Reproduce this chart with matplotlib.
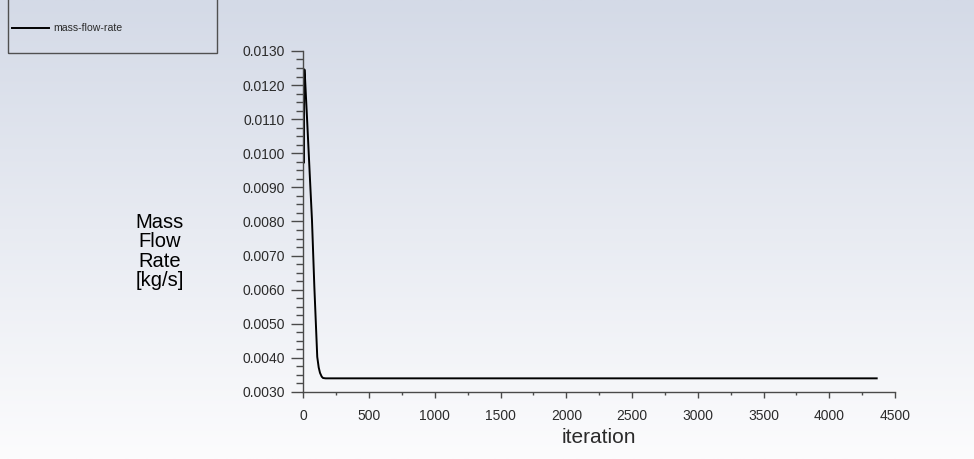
import numpy as np
import matplotlib.pyplot as plt
from matplotlib.lines import Line2D
from matplotlib.patches import Rectangle

# data
iteration = [1, 4, 7, 10, 30, 50, 66, 84, 106, 117, 127, 140, 150, 170, 200,
             500, 1000, 1500, 2000, 2500, 3000, 3500, 4000, 4360]
mass_flow = [0.01238, 0.00972, 0.01246, 0.01244, 0.01090, 0.00930, 0.00804,
             0.00608, 0.00403, 0.00372, 0.00356, 0.00345, 0.00341, 0.00340,
             0.00340, 0.00340, 0.00340, 0.00340, 0.00340, 0.00340, 0.00340,
             0.00340, 0.00340, 0.00340]

x_ticks = [0, 500, 1000, 1500, 2000, 2500, 3000, 3500, 4000, 4500]
y_ticks = [0.0030, 0.0040, 0.0050, 0.0060, 0.0070, 0.0080, 0.0090,
           0.0100, 0.0110, 0.0120, 0.0130]

plt.rcParams["font.family"] = ["Liberation Sans", "DejaVu Sans"]
TXT = "#2b2b2b"
AX = "#4a4a4a"

fig = plt.figure(figsize=(9.74, 4.59), dpi=100)

# background gradient (bluish grey at top to white at bottom)
bg = fig.add_axes([0, 0, 1, 1], zorder=-10)
grad = np.linspace(0, 1, 256).reshape(-1, 1)
top = np.array([212, 218, 231]) / 255
bot = np.array([252, 252, 253]) / 255
img = top * (1 - grad[..., None]) + bot * grad[..., None]
img = np.repeat(img, 2, axis=1)
bg.imshow(img, aspect="auto", extent=[0, 1, 0, 1])
bg.axis("off")

ax = fig.add_axes([0.3114, 0.146, 0.6076, 0.743])
ax.patch.set_alpha(0)
ax.plot(iteration, mass_flow, color="black", lw=1.4)

ax.set_xlim(0, 4500)
ax.set_ylim(0.0030, 0.0130)
ax.set_xticks(x_ticks)
ax.set_xticks(np.arange(0, 4501, 250), minor=True)
ax.set_yticks(y_ticks)
ax.set_yticks(np.arange(0.0030, 0.01301, 0.00025), minor=True)
ax.set_yticklabels([f"{v:.4f}" for v in y_ticks])

for s in ["top", "right"]:
    ax.spines[s].set_visible(False)
for s in ["left", "bottom"]:
    ax.spines[s].set_color(AX)
    ax.spines[s].set_linewidth(1.0)

ax.tick_params(axis="y", which="major", length=9, width=1, color=AX,
               labelsize=10, labelcolor=TXT, pad=4)
ax.tick_params(axis="y", which="minor", length=5, width=1, color=AX)
ax.tick_params(axis="x", which="major", length=4, width=1, color=AX,
               labelsize=10, labelcolor=TXT, pad=8)
ax.tick_params(axis="x", which="minor", length=2, width=1, color=AX)

ax.set_xlabel("iteration", fontsize=15, color=TXT, labelpad=4)
fig.text(0.164, 0.452, "Mass\nFlow\nRate\n[kg/s]", fontsize=14.5, color="black",
         ha="center", va="center", linespacing=1.02)

# legend box in the top left corner, running off the top edge
fig.add_artist(Rectangle((8 / 974, 1 - 53 / 459), 209 / 974, 60 / 459,
                         transform=fig.transFigure, fill=False,
                         edgecolor="#505050", lw=1.0, clip_on=False))
fig.add_artist(Line2D([12 / 974, 49 / 974], [1 - 28 / 459, 1 - 28 / 459],
                      transform=fig.transFigure, color="black", lw=1.4))
fig.text(53 / 974, 1 - 28 / 459, "mass-flow-rate", fontsize=7.6, color=TXT,
         va="center", ha="left")

fig.savefig("out.png", dpi=100)
